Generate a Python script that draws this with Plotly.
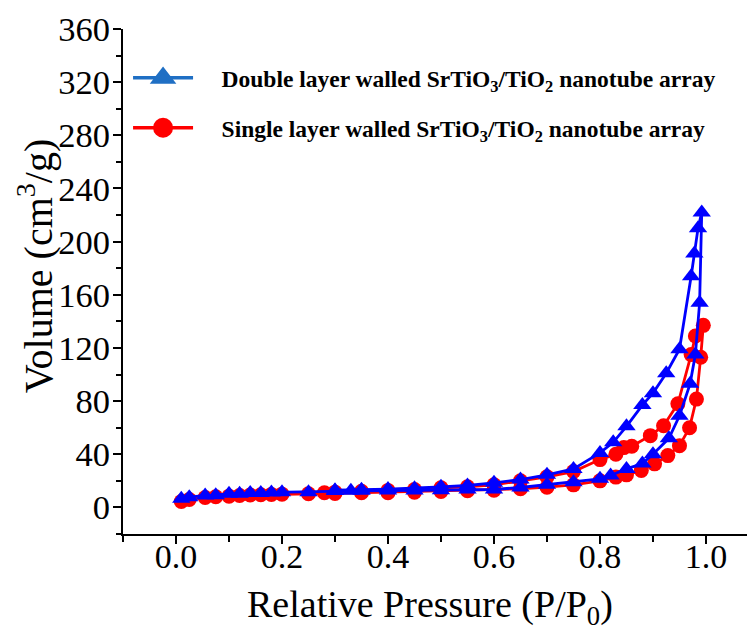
import plotly.graph_objects as go

# Double layer walled SrTiO3/TiO2 nanotube array (adsorption then desorption)
p_double = [0.01, 0.025, 0.055, 0.075, 0.10, 0.12, 0.14, 0.16, 0.18, 0.20, 0.25, 0.30, 0.33, 0.35,
            0.40, 0.45, 0.50, 0.55, 0.60, 0.65, 0.70, 0.75, 0.80, 0.82, 0.85, 0.88, 0.90, 0.93,
            0.95, 0.97, 0.98, 0.988, 0.992,
            0.985, 0.978, 0.972, 0.95, 0.925, 0.90, 0.88, 0.85, 0.825, 0.80, 0.75, 0.70, 0.65,
            0.60, 0.55, 0.50, 0.45, 0.40, 0.35, 0.30]
v_double = [6.5, 7.7, 9.0, 9.2, 10.3, 10.3, 10.8, 10.8, 11.3, 11.5, 11.5, 12.3, 12.5, 12.5,
            12.7, 12.8, 13.0, 13.5, 13.5, 15.0, 17.0, 19.0, 21.5, 24.0, 29.0, 33.0, 40.0, 52.0,
            69.0, 93.0, 115.0, 154.0, 222.0,
            210.0, 191.0, 174.0, 119.0, 101.0, 86.0, 77.0, 61.0, 49.0, 41.0, 29.0, 24.5, 21.0,
            18.5, 16.5, 15.5, 14.5, 13.8, 13.3, 13.0]

# Single layer walled SrTiO3/TiO2 nanotube array (adsorption then desorption)
p_single = [0.01, 0.025, 0.055, 0.075, 0.10, 0.12, 0.14, 0.16, 0.18, 0.20, 0.25, 0.30, 0.35,
            0.40, 0.45, 0.50, 0.55, 0.60, 0.65, 0.70, 0.75, 0.80, 0.83, 0.85, 0.878, 0.903, 0.928,
            0.95, 0.969, 0.982, 0.99, 0.995,
            0.98, 0.972, 0.947, 0.92, 0.895, 0.86, 0.845, 0.83, 0.80, 0.75, 0.70, 0.65, 0.60,
            0.55, 0.50, 0.45, 0.40, 0.35, 0.30, 0.28]
v_single = [4.5, 6.0, 7.5, 8.0, 8.5, 9.0, 9.3, 9.5, 9.8, 10.0, 10.3, 10.5, 11.0,
            11.0, 11.5, 12.0, 12.5, 13.0, 14.0, 15.2, 17.0, 20.0, 22.8, 24.5, 27.8, 32.8, 39.0,
            46.5, 60.0, 81.5, 113.0, 137.0,
            129.0, 115.0, 78.0, 61.5, 54.0, 46.0, 45.0, 40.0, 36.0, 27.0, 23.0, 20.0, 17.0,
            15.5, 14.8, 13.5, 12.8, 12.2, 11.5, 11.0]

gap = "\u00a0" * 4
name_double = gap + "<b>Double layer walled SrTiO<sub>3</sub>/TiO<sub>2</sub> nanotube array</b>"
name_single = gap + "<b>Single layer walled SrTiO<sub>3</sub>/TiO<sub>2</sub> nanotube array</b>"

x_ticks = [0.0, 0.2, 0.4, 0.6, 0.8, 1.0]
x_ticklabels = ["0.0", "0.2", "0.4", "0.6", "0.8", "1.0"]
y_ticks = [0, 40, 80, 120, 160, 200, 240, 280, 320, 360]
x_title = "Relative Pressure (P/P<sub>0</sub>)"
y_title = "Volume (cm<sup>3</sup>/g)"

serif = "Liberation Serif, Times New Roman, serif"

fig = go.Figure()
fig.add_trace(go.Scatter(
    x=p_single, y=v_single, mode="lines+markers", showlegend=False,
    line=dict(color="#ff0000", width=2.8),
    marker=dict(symbol="circle", size=15, color="#ff0000")))
fig.add_trace(go.Scatter(
    x=p_double, y=v_double, mode="lines+markers", showlegend=False,
    line=dict(color="#0000ff", width=2.8),
    marker=dict(symbol="triangle-up", size=16, color="#0000ff")))

# legend entries
fig.add_trace(go.Scatter(
    x=[None], y=[None], mode="lines+markers", name=name_double, legend="legend",
    line=dict(color="#1f6fc4", width=3.5),
    marker=dict(symbol="triangle-up", size=16, color="#1f6fc4",
                line=dict(color="#1f6fc4", width=4))))
fig.add_trace(go.Scatter(
    x=[None], y=[None], mode="lines+markers", name=name_single, legend="legend2",
    line=dict(color="#ff0000", width=3.5),
    marker=dict(symbol="circle", size=16, color="#ff0000",
                line=dict(color="#ff0000", width=4))))

leg_common = dict(xanchor="left", yanchor="middle", bgcolor="rgba(0,0,0,0)",
                  font=dict(family=serif, size=23.5, color="black"), itemwidth=60,
                  itemsizing="trace")

# the page adds an 8px body margin, so the figure is sized to fill the rest
fig.update_layout(
    width=747, height=618,
    margin=dict(l=115, r=0, t=21, b=92),
    plot_bgcolor="white", paper_bgcolor="white",
    font=dict(family=serif, color="black"),
    legend=dict(x=0.008, y=0.903, **leg_common),
    legend2=dict(x=0.008, y=0.804, **leg_common),
    xaxis=dict(
        range=[-0.1, 1.0925], tickvals=x_ticks, ticktext=x_ticklabels,
        showline=True, linecolor="black", linewidth=2, mirror=False,
        ticks="outside", ticklen=8, tickwidth=2, tickcolor="black",
        ticklabelstandoff=-17,
        minor=dict(dtick=0.1, tick0=0, ticks="outside", ticklen=6, tickwidth=2, tickcolor="black"),
        showgrid=False, zeroline=False,
        tickfont=dict(family=serif, size=34, color="black"),
    ),
    yaxis=dict(
        range=[-20, 360], tickvals=y_ticks,
        showline=True, linecolor="black", linewidth=2, mirror=False,
        ticks="outside", ticklen=8, tickwidth=2, tickcolor="black",
        ticklabelstandoff=-4,
        minor=dict(dtick=20, tick0=0, ticks="outside", ticklen=5, tickwidth=2, tickcolor="black"),
        showgrid=False, zeroline=False,
        tickfont=dict(family=serif, size=34.5, color="black"),
    ),
    annotations=[
        dict(text=x_title, xref="paper", yref="paper", x=0.486, y=-0.144,
             xanchor="center", yanchor="middle", showarrow=False,
             font=dict(family=serif, size=38, color="black")),
        dict(text=y_title, xref="paper", yref="paper", x=-0.138, y=0.53,
             xanchor="center", yanchor="middle", showarrow=False, textangle=-90,
             font=dict(family=serif, size=40, color="black")),
    ],
)

fig.write_html("out.html")
